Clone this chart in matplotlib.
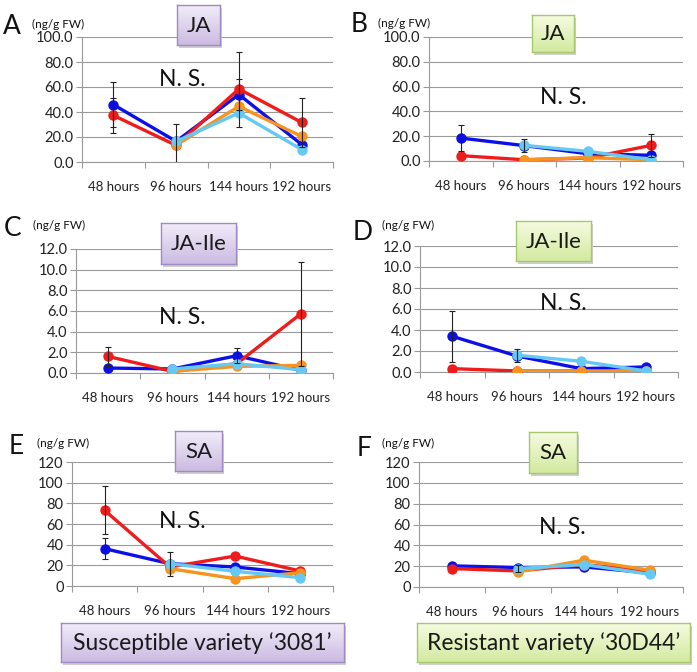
from __future__ import annotations

import matplotlib

matplotlib.use("Agg")
import matplotlib.pyplot as plt
import numpy as np

nan = float("nan")

hours = ["48 hours", "96 hours", "144 hours", "192 hours"]
series_colors = ["#0c10e8", "#f01c1c", "#f7931e", "#66c9f3"]

# means per series: blue, red, orange, light blue (orange / light blue start at 96 h)
ja_3081_mean = [[45.9, 16.5, 54.0, 14.0], [37.3, 13.3, 58.4, 31.7], [nan, 13.5, 44.5, 20.5], [nan, 16.5, 39.2, 10.0]]
ja_3081_err = [[18.0, nan, 12.7, nan], [14.0, 17.0, 30.0, 19.5], [nan, nan, nan, nan], [nan, nan, nan, nan]]
ja_30d44_mean = [[18.5, 12.4, 5.9, 4.6], [4.3, 1.0, 2.4, 12.6], [nan, 1.0, 2.7, 1.0], [nan, 12.6, 7.8, 1.0]]
ja_30d44_err = [[10.3, nan, nan, nan], [nan, nan, nan, 9.4], [nan, nan, nan, nan], [nan, 5.0, nan, nan]]
jaile_3081_mean = [[0.48, 0.39, 1.67, 0.26], [1.6, 0.16, 0.9, 5.73], [nan, 0.16, 0.64, 0.74], [nan, 0.39, 0.9, 0.32]]
jaile_3081_err = [[nan, nan, 0.74, nan], [0.88, nan, nan, 5.05], [nan, nan, nan, nan], [nan, nan, nan, nan]]
jaile_30d44_mean = [[3.4, 1.53, 0.32, 0.48], [0.32, 0.1, 0.1, 0.05], [nan, 0.1, 0.1, 0.05], [nan, 1.6, 1.02, 0.1]]
jaile_30d44_err = [[2.43, nan, nan, nan], [nan, nan, nan, nan], [nan, nan, nan, nan], [nan, 0.63, nan, nan]]
sa_3081_mean = [[36.1, 21.6, 18.4, 11.9], [73.2, 18.4, 29.0, 14.5], [nan, 16.8, 7.1, 12.9], [nan, 21.6, 14.2, 8.1]]
sa_3081_err = [[10.4, nan, nan, nan], [23.3, nan, nan, nan], [nan, nan, nan, nan], [nan, 11.6, nan, nan]]
sa_30d44_mean = [[20.3, 18.7, 19.3, 13.5], [17.7, 15.4, 21.5, 15.4], [nan, 14.5, 25.7, 16.1], [nan, 17.7, 21.6, 12.2]]
sa_30d44_err = [[nan, nan, nan, nan], [nan, nan, nan, nan], [nan, nan, nan, nan], [nan, 3.5, nan, nan]]

W, H = 697, 672
GRID = "#9a9a9a"
FONT = "Lato"

PURPLE = ("#f2ecf9", "#cbbbe2", "#a08ac2")
GREEN = ("#f5fbe0", "#d3eaa0", "#a9c76e")


def fig_rect(left, top, right, bottom):
    return [left / W, 1 - bottom / H, (right - left) / W, (bottom - top) / H]


def draw_panel(fig, box, means, errs, ymax, ystep, fmt):
    ax = fig.add_axes(fig_rect(*box))
    x = np.arange(len(hours))
    for vals, color in zip(means, series_colors):
        ax.plot(x, vals, color=color, lw=2.4, marker="o", ms=7.5, mew=0, zorder=3)
    for vals, err in zip(means, errs):
        ax.errorbar(x, vals, yerr=err, fmt="none", ecolor="#222222", elinewidth=0.8,
                    capsize=2.2, capthick=0.8, zorder=4)
    ax.set_xlim(-0.5, len(hours) - 0.5)
    ax.set_ylim(0, ymax)
    ax.set_yticks(np.arange(0, ymax + 0.01, ystep))
    ax.set_yticklabels([fmt.format(v) for v in np.arange(0, ymax + 0.01, ystep)],
                       fontsize=10.5, family=FONT, color="#222222")
    ax.set_xticks(x)
    ax.set_xticklabels(hours, fontsize=9.5, family=FONT, color="#222222")
    ax.set_xticks(np.arange(-0.5, len(hours)), minor=True)
    ax.tick_params(axis="x", which="major", length=0, pad=14)
    ax.tick_params(axis="x", which="minor", length=4, color=GRID, width=0.8)
    ax.tick_params(axis="y", length=4, color=GRID, width=0.8, pad=2)
    ax.yaxis.grid(True, color=GRID, lw=0.8)
    ax.set_axisbelow(True)
    for side in ("top", "right"):
        ax.spines[side].set_visible(False)
    for side in ("left", "bottom"):
        ax.spines[side].set_color(GRID)
        ax.spines[side].set_linewidth(0.8)
    return ax


def label_box(fig, box, text, colors, size):
    left, top, right, bottom = box
    shadow = fig.add_axes(fig_rect(left + 2, top + 3, right + 2, bottom + 3))
    shadow.set_facecolor("#cfcfcf")
    shadow.set_xticks([])
    shadow.set_yticks([])
    for sp in shadow.spines.values():
        sp.set_visible(False)
    bx = fig.add_axes(fig_rect(left, top, right, bottom))
    top_c = np.array(matplotlib.colors.to_rgb(colors[0]))
    bot_c = np.array(matplotlib.colors.to_rgb(colors[1]))
    t = np.linspace(0, 1, 64)[:, None, None]
    grad = top_c * (1 - t) + bot_c * t
    bx.imshow(grad, aspect="auto", extent=(0, 1, 0, 1), origin="upper")
    bx.set_xlim(0, 1)
    bx.set_ylim(0, 1)
    bx.set_xticks([])
    bx.set_yticks([])
    for sp in bx.spines.values():
        sp.set_color(colors[2])
        sp.set_linewidth(1.0)
    bx.text(0.5, 0.48, text, ha="center", va="center", fontsize=size, family=FONT, color="#1a1a1a")


def px_text(fig, x, y, text, **kw):
    fig.text(x / W, 1 - y / H, text, family=FONT, color="#111111", **kw)


def main() -> None:
    fig = plt.figure(figsize=(W / 100, H / 100), dpi=100)
    fig.patch.set_facecolor("white")

    panels = [
        ((82, 37, 333, 162), ja_3081_mean, ja_3081_err, 100, 20, "{:.1f}"),
        ((429, 37, 683, 161), ja_30d44_mean, ja_30d44_err, 100, 20, "{:.1f}"),
        ((76, 249, 333, 373), jaile_3081_mean, jaile_3081_err, 12, 2, "{:.1f}"),
        ((420, 246, 678, 372), jaile_30d44_mean, jaile_30d44_err, 12, 2, "{:.1f}"),
        ((72, 462, 333, 586), sa_3081_mean, sa_3081_err, 120, 20, "{:.0f}"),
        ((419, 462, 683, 587), sa_30d44_mean, sa_30d44_err, 120, 20, "{:.0f}"),
    ]
    for box, means, errs, ymax, step, fmt in panels:
        draw_panel(fig, box, means, errs, ymax, step, fmt)

    letters = [("A", 3, 27, 32, 24), ("B", 351, 24, 378, 23), ("C", 4, 229, 33, 225),
               ("D", 353, 232, 382, 225), ("E", 9, 446, 37, 443), ("F", 357, 449, 382, 443)]
    for letter, lx, ly, ux, uy in letters:
        px_text(fig, lx, ly, letter, fontsize=19, ha="left", va="center")
        px_text(fig, ux, uy, "(ng/g FW)", fontsize=8.5, ha="left", va="center")

    for x, y in [(182, 80), (563, 98), (182, 318), (563, 304), (182, 522), (562, 527)]:
        px_text(fig, x, y, "N. S.", fontsize=16.5, ha="center", va="center")

    label_box(fig, (177, 5, 220, 45), "JA", PURPLE, 16)
    label_box(fig, (532, 15, 574, 52), "JA", GREEN, 16)
    label_box(fig, (161, 223, 236, 264), "JA-Ile", PURPLE, 16)
    label_box(fig, (516, 221, 591, 261), "JA-Ile", GREEN, 16)
    label_box(fig, (175, 431, 222, 471), "SA", PURPLE, 16)
    label_box(fig, (529, 432, 577, 473), "SA", GREEN, 16)
    label_box(fig, (61, 623, 344, 662), "Susceptible variety \u20183081\u2019", PURPLE, 16.5)
    label_box(fig, (417, 623, 690, 662), "Resistant variety \u201830D44\u2019", GREEN, 16.5)

    fig.savefig("out.png", dpi=100)
    plt.close(fig)


if __name__ == "__main__":
    main()
